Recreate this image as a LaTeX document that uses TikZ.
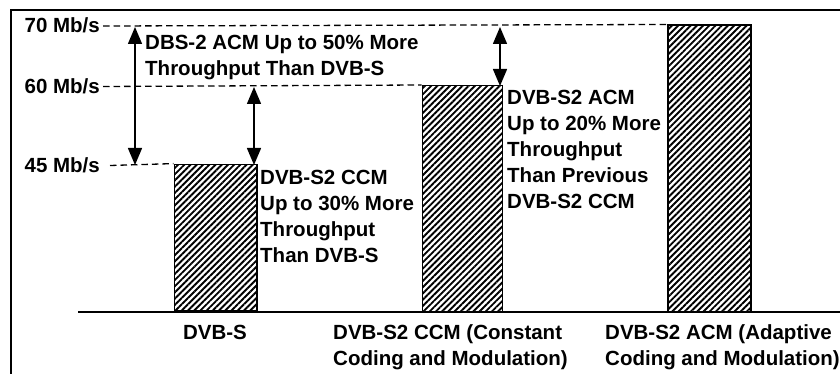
\documentclass[tikz,border=0pt]{standalone}
\usepackage{fontspec}
\setmainfont{Liberation Sans}
\usetikzlibrary{patterns.meta,arrows.meta}
\begin{document}
\begin{tikzpicture}[x=1pt,y=-1pt,
  txt/.style={font=\fontsize{20.5}{26}\selectfont\bfseries, inner sep=0pt, align=left},
  ylab/.style={txt, anchor=base east},
  bar/.style={draw=black, line width=1.5pt, anchor=south west, inner sep=0pt,
    pattern={Lines[angle=45,distance=4.4pt,line width=1.9pt]}},
  dashline/.style={line width=1.3pt, dash pattern=on 6.5pt off 4pt},
  dblarrow/.style={line width=1.5pt, {Triangle[width=14pt,length=17pt]}-{Triangle[width=14pt,length=17pt]}},
  frameline/.style={line width=2pt}
]
\useasboundingbox (0,0) rectangle (840,374);
% frame
\coordinate (fbl) at (11,380);
\coordinate (ftl) at (11,10);
\coordinate (ftr) at (845,10);
\draw[frameline] (fbl) -- (ftl) -- (ftr);
% bars
\node[bar, minimum width=82.5pt, minimum height=146.5pt] (b1) at (173.5,312) {};
\node[bar, minimum width=80pt, minimum height=225.5pt] (b2) at (421.5,312) {};
\node[bar, minimum width=83pt, minimum height=286pt] (b3) at (667,312) {};
% baseline
\coordinate (bl) at (78,312);
\coordinate (br) at (845,312);
\draw[line width=1.5pt] (bl) -- (br);
% y labels
\node[ylab] (l70) at (100,32.4) {70 Mb/s};
\node[ylab] (l60) at (100,94) {60 Mb/s};
\node[ylab] (l45) at (100,173) {45 Mb/s};
% dashed lines
\coordinate (d70) at (103,26);
\coordinate (d60) at (103,86.5);
\coordinate (d45) at (110,165.5);
\draw[dashline] (d70) -- (b3.north west);
\draw[dashline] (d60) -- (b2.north west);
\draw[dashline] (d45) -- (b1.north west);
% arrows
\coordinate (a1t) at (135,27);
\coordinate (a1b) at (135,165);
\coordinate (a2t) at (254,87);
\coordinate (a2b) at (254,165);
\coordinate (a3t) at (500,27);
\coordinate (a3b) at (500,86);
\draw[dblarrow] (a1t) -- (a1b);
\draw[dblarrow] (a2t) -- (a2b);
\draw[dblarrow] (a3t) -- (a3b);
% annotations
\node[txt, anchor=north west] (n1) at (145,34.5) {DBS-2 ACM Up to 50\% More\\Throughput Than DVB-S};
\node[txt, anchor=north west] (n2) at (260,169.5) {DVB-S2 CCM\\Up to 30\% More\\Throughput\\Than DVB-S};
\node[txt, anchor=north west] (n3) at (507,89.5) {DVB-S2 ACM\\Up to 20\% More\\Throughput\\Than Previous\\DVB-S2 CCM};
% category labels
\node[txt, anchor=base] (c1) at (215,339.5) {DVB-S};
\node[txt, anchor=north west] (c2) at (333,324.5) {DVB-S2 CCM (Constant\\Coding and Modulation)};
\node[txt, anchor=north west] (c3) at (605,324.5) {DVB-S2 ACM (Adaptive\\Coding and Modulation)};
\end{tikzpicture}
\end{document}
